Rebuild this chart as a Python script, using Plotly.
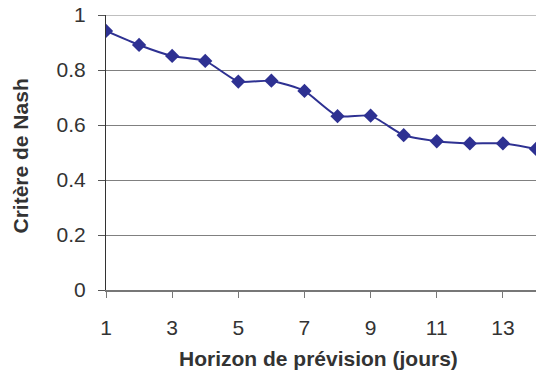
import plotly.graph_objects as go

horizon = [1, 2, 3, 4, 5, 6, 7, 8, 9, 10, 11, 12, 13, 14]
nash = [0.942, 0.891, 0.851, 0.833, 0.758, 0.761, 0.724, 0.632, 0.634, 0.563, 0.541, 0.533, 0.533, 0.513]
x_ticks = [1, 3, 5, 7, 9, 11, 13]
y_ticks = [0, 0.2, 0.4, 0.6, 0.8, 1]
y_tick_labels = ["0", "0.2", "0.4", "0.6", "0.8", "1"]

FONT = "Liberation Sans, Arial, sans-serif"
fig = go.Figure()
fig.add_trace(go.Scatter(
    x=horizon, y=nash, mode="lines+markers",
    line=dict(color="#2E3192", width=2, shape="spline", smoothing=0.5),
    marker=dict(symbol="diamond", size=11, color="#2E3192"),
    showlegend=False,
))
fig.update_layout(
    width=536, height=376,
    margin=dict(l=106, r=0, t=15, b=86),
    paper_bgcolor="white", plot_bgcolor="white",
    font=dict(family=FONT, color="#333333", size=21),
)
fig.update_xaxes(
    range=[1, 14], tickmode="array", tickvals=x_ticks, automargin=False,
    ticks="outside", ticklen=6, tickcolor="#777777",
    showline=True, linecolor="#777777", linewidth=1.5,
    showgrid=False, zeroline=False, ticklabelstandoff=12,
    ticklabeloverflow="allow",
    tickfont=dict(size=21, color="#333333"),
)
fig.update_yaxes(
    range=[0, 1], tickmode="array", tickvals=y_ticks, ticktext=y_tick_labels,
    automargin=False, ticklabeloverflow="allow",
    ticks="outside", ticklen=7, tickcolor="#555555",
    showline=True, linecolor="#333333", linewidth=1,
    showgrid=True, gridcolor="#808080", gridwidth=1, zeroline=False,
    ticklabelstandoff=8,
    tickfont=dict(size=21, color="#333333"),
)
fig.add_hline(y=1, line=dict(color="#808080", width=1), layer="below")
fig.add_annotation(
    text="<b>Horizon de prévision (jours)</b>", xref="paper", yref="paper",
    x=(318 - 106) / 430, y=-(358 - 290) / 275, showarrow=False,
    xanchor="center", yanchor="middle", font=dict(size=21, color="#333333", family=FONT),
)
fig.add_annotation(
    text="<b>Critère de Nash</b>", xref="paper", yref="paper",
    x=-(106 - 20) / 430, y=(290 - 156.5) / 275, showarrow=False, textangle=-90,
    xanchor="center", yanchor="middle", font=dict(size=21, color="#333333", family=FONT),
)
fig.write_html(
    "out.html",
    config={"displayModeBar": False},
    post_script="document.body.style.margin='0';",
)
